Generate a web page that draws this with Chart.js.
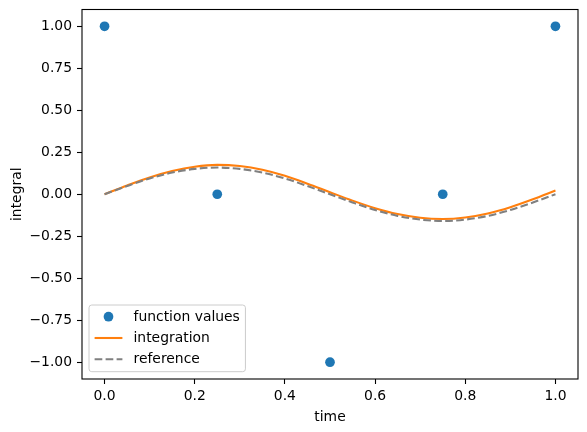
<!DOCTYPE html>
<html>
<head>
<meta charset="utf-8">
<script src="https://cdn.jsdelivr.net/npm/chart.js@4/dist/chart.umd.min.js"></script>
<style>
  html, body { margin: 0; padding: 0; background: #fff; }
  #wrap { width: 587px; height: 432px; }
</style>
</head>
<body>
<div id="wrap"><canvas id="c" width="587" height="432"></canvas></div>
<script>
// ---- data ----
const sampleTimes = [0, 0.25, 0.5, 0.75, 1.0];
const functionValues = [1, 0, -1, 0, 1];

const curveTimes = [0, 0.05, 0.10, 0.15, 0.20, 0.25, 0.30, 0.35, 0.40, 0.45, 0.50,
                    0.55, 0.60, 0.65, 0.70, 0.75, 0.80, 0.85, 0.90, 0.95, 1.00];
const integrationValues = [0, 0.052, 0.100, 0.138, 0.164, 0.175, 0.168, 0.146, 0.110, 0.063, 0.012,
                           -0.038, -0.083, -0.118, -0.140, -0.147, -0.138, -0.114, -0.077, -0.030, 0.022];
const referenceValues = [0, 0.049, 0.094, 0.129, 0.151, 0.159, 0.151, 0.129, 0.094, 0.049, 0,
                         -0.049, -0.094, -0.129, -0.151, -0.159, -0.151, -0.129, -0.094, -0.049, 0];

const xTickValues = [0.0, 0.2, 0.4, 0.6, 0.8, 1.0];
const yTickValues = [-1.00, -0.75, -0.50, -0.25, 0.00, 0.25, 0.50, 0.75, 1.00];
const seriesLabels = ['function values', 'integration', 'reference'];
const xAxisLabel = 'time';
const yAxisLabel = 'integral';

// ---- styling ----
const FONT = 'DejaVu Sans';
const FS = 13.9;
const BLUE = '#1f77b4', ORANGE = '#ff7f0e', GRAY = '#808080';
const LW = 2.08;
const DASH = [7.7, 3.3];
const MR = 4.85;

const toPts = (xs, ys) => xs.map((x, i) => ({ x: x, y: ys[i] }));
const fmt = (v, d) => v.toFixed(d).replace('-', '\u2212');

const framePlugin = {
  id: 'frame',
  afterDatasetsDraw(chart) {
    const { ctx, chartArea: a } = chart;
    ctx.save();
    ctx.strokeStyle = '#000';
    ctx.lineWidth = 1.1;
    ctx.strokeRect(a.left, a.top, a.right - a.left, a.bottom - a.top);
    ctx.restore();
  }
};

const legendPlugin = {
  id: 'mplLegend',
  afterDraw(chart) {
    const { ctx, chartArea: a } = chart;
    const ds = chart.data.datasets;
    ctx.save();
    ctx.font = FS + 'px "' + FONT + '"';
    let maxW = 0;
    ds.forEach(d => { maxW = Math.max(maxW, ctx.measureText(d.label).width); });
    const pad = 5.6, handleLen = 27.8, textPad = 11.1, rowH = 21.3;
    const w = pad + handleLen + textPad + maxW + pad;
    const h = 66.7;
    const x0 = a.left + 7;
    const y0 = a.bottom - 7.3 - h;
    ctx.beginPath();
    ctx.roundRect(x0, y0, w, h, 2.8);
    ctx.fillStyle = 'rgba(255,255,255,0.8)';
    ctx.fill();
    ctx.strokeStyle = '#cccccc';
    ctx.lineWidth = 1;
    ctx.stroke();
    ds.forEach((d, i) => {
      const cy = y0 + 11.7 + i * rowH;
      const hx = x0 + pad;
      if (i === 0) {
        ctx.beginPath();
        ctx.arc(hx + handleLen / 2, cy, MR, 0, Math.PI * 2);
        ctx.fillStyle = d.backgroundColor;
        ctx.fill();
      } else {
        ctx.beginPath();
        ctx.setLineDash(d.borderDash || []);
        ctx.moveTo(hx, cy);
        ctx.lineTo(hx + handleLen, cy);
        ctx.strokeStyle = d.borderColor;
        ctx.lineWidth = LW;
        ctx.stroke();
        ctx.setLineDash([]);
      }
      ctx.fillStyle = '#000';
      ctx.textBaseline = 'middle';
      ctx.textAlign = 'left';
      ctx.fillText(d.label, hx + handleLen + textPad, cy + 0.5);
    });
    ctx.restore();
  }
};

new Chart(document.getElementById('c'), {
  type: 'scatter',
  data: {
    datasets: [
      {
        label: seriesLabels[0],
        data: toPts(sampleTimes, functionValues),
        showLine: false,
        pointRadius: MR,
        pointHoverRadius: MR,
        pointBorderWidth: 0,
        backgroundColor: BLUE,
        borderColor: BLUE,
        order: 3
      },
      {
        label: seriesLabels[1],
        data: toPts(curveTimes, integrationValues),
        showLine: true,
        pointRadius: 0,
        borderColor: ORANGE,
        backgroundColor: ORANGE,
        borderWidth: LW,
        cubicInterpolationMode: 'monotone',
        order: 2
      },
      {
        label: seriesLabels[2],
        data: toPts(curveTimes, referenceValues),
        showLine: true,
        pointRadius: 0,
        borderColor: GRAY,
        backgroundColor: GRAY,
        borderWidth: LW,
        borderDash: DASH,
        cubicInterpolationMode: 'monotone',
        order: 1
      }
    ]
  },
  options: {
    responsive: false,
    animation: false,
    devicePixelRatio: 1,
    layout: { padding: { left: 0, right: 9, top: 9.5, bottom: 0 } },
    plugins: {
      legend: { display: false },
      tooltip: { enabled: false }
    },
    scales: {
      x: {
        type: 'linear',
        min: -0.05,
        max: 1.05,
        afterBuildTicks: s => { s.ticks = xTickValues.map(v => ({ value: v })); },
        afterFit: s => { s.height = 53; s.paddingLeft = 0; s.paddingRight = 0; },
        ticks: {
          callback: v => fmt(v, 1),
          color: '#000',
          font: { family: FONT, size: FS },
          padding: 4,
          maxRotation: 0,
          autoSkip: false
        },
        grid: { drawOnChartArea: false, drawTicks: true, tickLength: 5, tickColor: '#000', tickWidth: 1.1 },
        border: { display: false },
        title: {
          display: true,
          text: xAxisLabel,
          color: '#000',
          font: { family: FONT, size: FS },
          padding: { top: 0, bottom: 6.5 }
        }
      },
      y: {
        type: 'linear',
        min: -1.1,
        max: 1.1,
        afterBuildTicks: s => { s.ticks = yTickValues.map(v => ({ value: v })); },
        afterFit: s => { s.width = 82; s.paddingTop = 0; s.paddingBottom = 0; },
        ticks: {
          callback: v => fmt(v, 2),
          color: '#000',
          font: { family: FONT, size: FS },
          padding: 5,
          autoSkip: false
        },
        grid: { drawOnChartArea: false, drawTicks: true, tickLength: 5, tickColor: '#000', tickWidth: 1.1 },
        border: { display: false },
        title: {
          display: true,
          text: yAxisLabel,
          color: '#000',
          font: { family: FONT, size: FS },
          padding: { top: 8.7, bottom: 0 }
        }
      }
    }
  },
  plugins: [framePlugin, legendPlugin]
});
</script>
</body>
</html>
